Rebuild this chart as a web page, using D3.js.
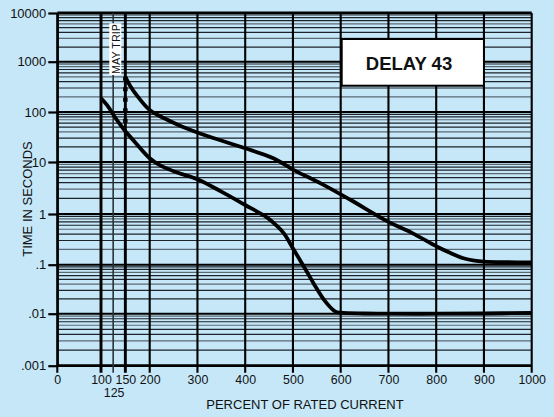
<!DOCTYPE html>
<html>
<head>
<meta charset="utf-8">
<script src="https://cdn.jsdelivr.net/npm/d3@7"></script>
<style>
  html, body { margin: 0; padding: 0; background: #c5e7f8; }
  svg { display: block; }
  text { font-family: "Liberation Sans", Arial, sans-serif; fill: #111; }
</style>
</head>
<body>
<svg id="chart" width="554" height="417"></svg>
<script>
// ---- data ----
const xTickValues = [0, 100, 150, 200, 300, 400, 500, 600, 700, 800, 900, 1000];
const xTickLabels = ["0", "100", "150", "200", "300", "400", "500", "600", "700", "800", "900", "1000"];
const xExtraTick = 125;
const xExtraLabel = "125";
const yTickValues = [0.001, 0.01, 0.1, 1, 10, 100, 1000, 10000];
const yTickLabels = [".001", ".01", ".1", "1", "10", "100", "1000", "10000"];
const minorMultipliers = [2, 3, 4, 5, 6, 7, 8, 9];

const upperX = [150, 160, 176, 200, 238, 260, 300, 335, 400, 459, 502, 560, 621, 700, 750, 802, 830, 857, 880, 900, 950, 1000];
const upperY = [500, 330, 200, 110, 69, 55, 38.9, 29.8, 18.8, 11.9, 7.0, 3.8, 1.86, 0.70, 0.42, 0.226, 0.17, 0.134, 0.12, 0.115, 0.112, 0.111];

const lowerX = [100, 115, 128, 148, 169, 200, 224, 259, 300, 350, 400, 446, 464, 481, 502, 523, 543, 568, 589, 600, 650, 700, 800, 900, 1000];
const lowerY = [187, 127, 80.5, 43.6, 25.5, 11.9, 8.4, 6.2, 4.65, 2.69, 1.49, 0.85, 0.61, 0.416, 0.195, 0.091, 0.042, 0.0176, 0.011, 0.0105, 0.0101, 0.0100, 0.0100, 0.0101, 0.0104];

const mayTripX = 150;
const mayTripY = [500, 50];

const titleText = "DELAY 43";
const mayTripText = "MAY TRIP";
const xTitle = "PERCENT OF RATED CURRENT";
const yTitle = "TIME IN SECONDS";

// ---- scales ----
const svg = d3.select("#chart");
const x = d3.scaleLinear().domain([0, 100, 200, 1000]).range([57.3, 101, 149.7, 531.7]);
const y = d3.scaleLog()
  .domain([0.001, 0.01, 0.1, 1, 10, 100, 1000, 10000])
  .range([365.7, 313.7, 264.7, 214, 162, 112, 61.7, 13]);

const x0 = x(0), x1 = x(1000), yTop = y(10000), yBot = y(0.001);

// minor horizontal grid
const minorVals = [];
yTickValues.slice(0, -1).forEach(d => minorMultipliers.forEach(m => minorVals.push(d * m)));
svg.append("g").selectAll("line").data(minorVals).join("line")
  .attr("x1", x0).attr("x2", x1)
  .attr("y1", d => y(d)).attr("y2", d => y(d))
  .attr("stroke", (d, i) => (i % 3 === 1 ? "#5a6872" : "#1c232a"))
  .attr("stroke-width", 1.2);

// major horizontal grid
svg.append("g").selectAll("line").data(yTickValues).join("line")
  .attr("x1", x0).attr("x2", x1)
  .attr("y1", d => y(d)).attr("y2", d => y(d))
  .attr("stroke", "#000")
  .attr("stroke-width", d => (d === 10000 || d === 0.001) ? 2.8 : 2);

// vertical grid
const vLines = xTickValues.concat([xExtraTick]);
svg.append("g").selectAll("line").data(vLines).join("line")
  .attr("x1", d => x(d)).attr("x2", d => x(d))
  .attr("y1", yTop).attr("y2", yBot + 7)
  .attr("stroke", d => d === 125 ? "#2a3238" : "#000")
  .attr("stroke-width", d => (d === 100 || d === 150) ? 2.9 : d === 125 ? 1.6 : 2.1);

// y axis
const yAxis = d3.axisLeft(y).tickValues(yTickValues)
  .tickFormat((d, i) => yTickLabels[i]).tickSize(9).tickSizeOuter(0).tickPadding(2);
const gy = svg.append("g").attr("transform", `translate(${x0},0)`).call(yAxis);
gy.select(".domain").attr("stroke", "#000").attr("stroke-width", 2.2);
gy.selectAll(".tick line").attr("stroke", "#000").attr("stroke-width", 2.2);
gy.selectAll(".tick text").attr("font-size", 13).attr("fill", "#111")
  .attr("font-family", "Liberation Sans, Arial, sans-serif");

// x axis labels
const xAxis = d3.axisBottom(x).tickValues(xTickValues)
  .tickFormat((d, i) => xTickLabels[i]).tickSize(0).tickSizeOuter(0).tickPadding(10);
const gx = svg.append("g").attr("transform", `translate(0,${yBot})`).call(xAxis);
gx.select(".domain").remove();
gx.selectAll(".tick text").attr("font-size", 12.4).attr("fill", "#111")
  .attr("font-family", "Liberation Sans, Arial, sans-serif");

svg.append("text")
  .attr("x", x(xExtraTick) + 1).attr("y", 397)
  .attr("text-anchor", "middle").attr("font-size", 12.4)
  .text(xExtraLabel);

// axis titles
svg.append("text")
  .attr("x", 305).attr("y", 408.5)
  .attr("text-anchor", "middle").attr("font-size", 13)
  .text(xTitle);
svg.append("text")
  .attr("transform", "translate(31.5,199) rotate(-90)")
  .attr("text-anchor", "middle").attr("font-size", 13)
  .text(yTitle);

// curves
const line = d3.line().x(d => x(d[0])).y(d => y(d[1])).curve(d3.curveCatmullRom.alpha(0.5));
svg.append("path")
  .datum(upperX.map((d, i) => [d, upperY[i]]))
  .attr("d", line).attr("fill", "none").attr("stroke", "#000")
  .attr("stroke-width", 3.8).attr("stroke-linecap", "butt");
svg.append("path")
  .datum(lowerX.map((d, i) => [d, lowerY[i]]))
  .attr("d", line).attr("fill", "none").attr("stroke", "#000")
  .attr("stroke-width", 3.8).attr("stroke-linecap", "butt");

// dashed may-trip line
svg.append("line")
  .attr("x1", x(mayTripX)).attr("x2", x(mayTripX))
  .attr("y1", y(mayTripY[0])).attr("y2", y(mayTripY[1]))
  .attr("stroke", "#000").attr("stroke-width", 4.5)
  .attr("stroke-dasharray", "4,6.5");

// MAY TRIP label box
svg.append("rect")
  .attr("x", 109.3).attr("y", 23.3).attr("width", 12).attr("height", 51.7)
  .attr("fill", "#fff");
svg.append("text")
  .attr("transform", "translate(119.5,49) rotate(-90)")
  .attr("text-anchor", "middle").attr("font-size", 10.8)
  .text(mayTripText);

// DELAY box
svg.append("rect")
  .attr("x", x(600) + 1).attr("y", 39).attr("width", x(900) - x(600) - 1).attr("height", 46.7)
  .attr("fill", "#fff").attr("stroke", "#000").attr("stroke-width", 2);
svg.append("text")
  .attr("x", 409).attr("y", 70)
  .attr("text-anchor", "middle").attr("font-size", 18.5).attr("font-weight", "bold")
  .attr("font-family", "Lato, 'Open Sans', sans-serif")
  .text(titleText);
</script>
</body>
</html>
